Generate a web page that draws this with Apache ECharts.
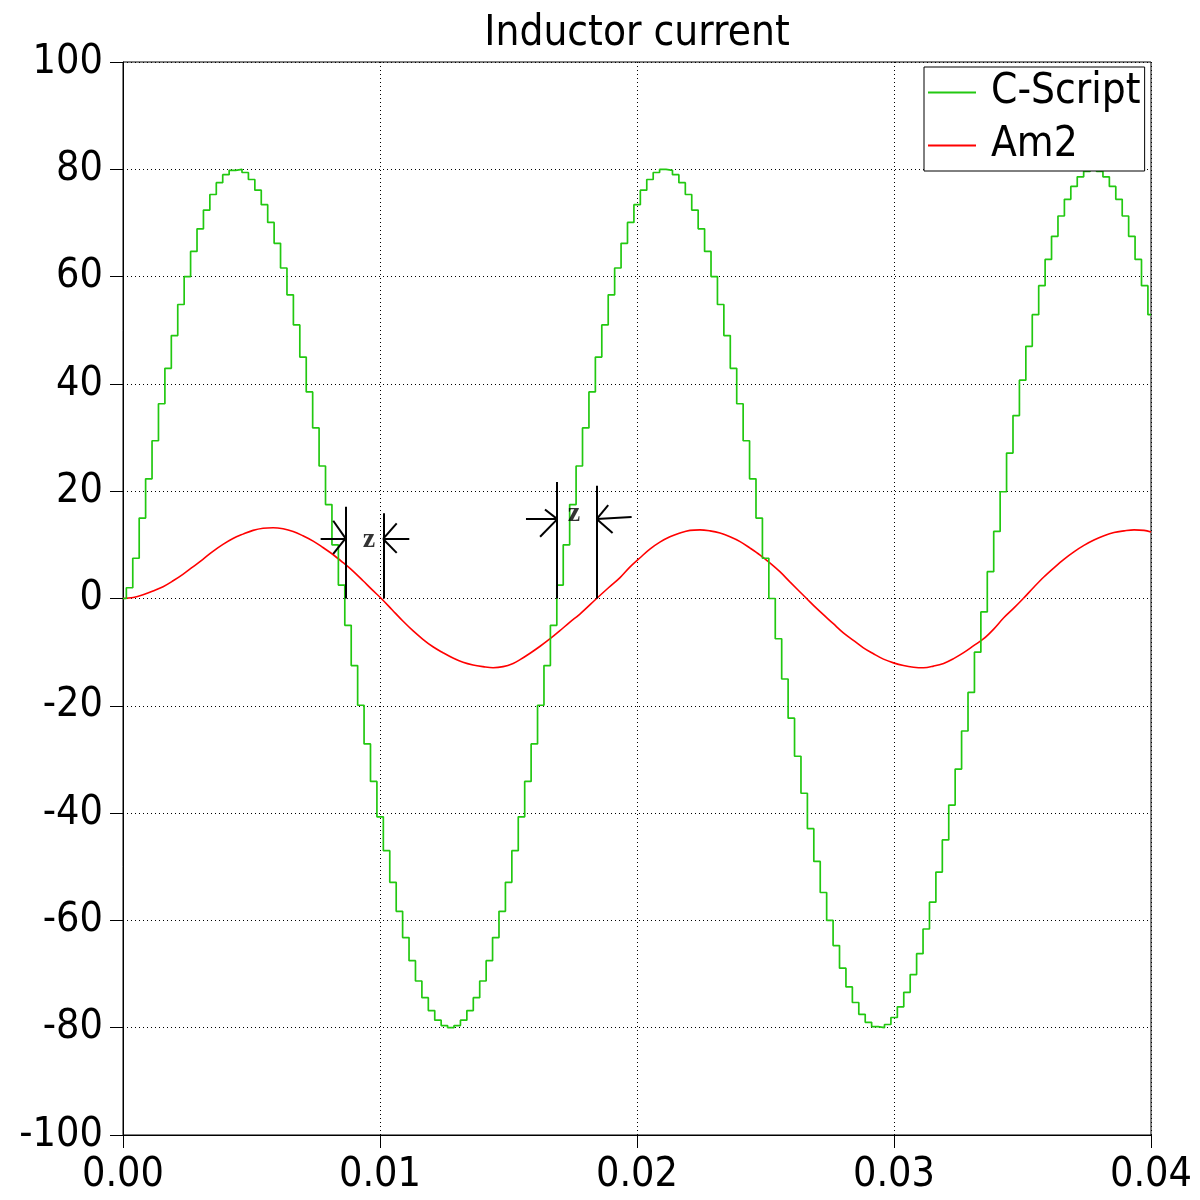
<!DOCTYPE html>
<html>
<head>
<meta charset="utf-8">
<title>Inductor current</title>
<script src="https://cdn.jsdelivr.net/npm/echarts@6/dist/echarts.min.js"></script>
<style>
  html, body { margin: 0; padding: 0; background: #fff; }
  #chart { width: 1200px; height: 1200px; }
</style>
</head>
<body>
<div id="chart"></div>
<script>
// C-Script output: one held value per sample step
const stepStart = 0.00013;
const stepPeriod = 0.00025;
const cScriptSteps = [
  2.0, 7.5, 15.0, 22.3, 29.4, 36.3, 42.9, 49.0, 54.8, 60.0, 64.7, 68.9, 72.4, 75.3, 77.5, 79.0, 79.8,
  80.0, 79.4, 78.1, 76.1, 73.4, 70.1, 66.2, 61.6, 56.6, 51.0, 45.0, 38.5, 31.8, 24.7, 17.5, 10.0, 2.5,
  -5.0, -12.5, -19.9, -27.1, -34.1, -40.7, -47.0, -52.9, -58.3, -63.2, -67.5, -71.3, -74.4, -76.8, -78.6, -79.6, -80.0,
  -79.6, -78.6, -76.8, -74.4, -71.3, -67.5, -63.2, -58.3, -52.9, -47.0, -40.7, -34.1, -27.1, -19.9, -12.5, -5.0,
  2.5, 10.0, 17.5, 24.7, 31.8, 38.5, 45.0, 51.0, 56.6, 61.6, 66.2, 70.1, 73.4, 76.1, 78.1, 79.4, 80.0,
  79.8, 79.0, 77.5, 75.3, 72.4, 68.9, 64.7, 60.0, 54.8, 49.0, 42.9, 36.3, 29.4, 22.3, 15.0, 7.5,
  0.0, -7.5, -15.0, -22.3, -29.4, -36.3, -42.9, -49.0, -54.8, -60.0, -64.7, -68.9, -72.4, -75.3, -77.5, -79.0, -79.8,
  -80.0, -79.4, -78.1, -76.1, -73.4, -70.1, -66.2, -61.6, -56.6, -51.0, -45.0, -38.5, -31.8, -24.7, -17.5, -10.0, -2.5,
  5.0, 12.5, 19.9, 27.1, 34.1, 40.7, 47.0, 52.9, 58.3, 63.2, 67.5, 71.3, 74.4, 76.8, 78.6, 79.6, 80.0,
  79.6, 78.6, 76.8, 74.4, 71.3, 67.5, 63.2, 58.3, 52.9
];

// Am2 current
const am2Times = [
  0, 0.0004, 0.00078, 0.00117, 0.00156, 0.00195, 0.00233, 0.00272, 0.00311, 0.0035,
  0.00389, 0.00428, 0.00467, 0.00506, 0.00545, 0.00584, 0.00623, 0.00662, 0.0070, 0.0074,
  0.00778, 0.00817, 0.00856, 0.00895, 0.00934, 0.0097, 0.01005, 0.01047, 0.01089, 0.01128,
  0.01167, 0.01206, 0.01245, 0.01284, 0.01323, 0.01362, 0.01401, 0.0144, 0.01479, 0.01518,
  0.01545, 0.01584, 0.01623, 0.01662, 0.0170, 0.01739, 0.01778, 0.01843, 0.01889, 0.01934,
  0.01973, 0.02012, 0.0205, 0.02089, 0.02128, 0.02167, 0.02206, 0.02245, 0.02284, 0.02323,
  0.02362, 0.02401, 0.0244, 0.02479, 0.02518, 0.02556, 0.02595, 0.0266, 0.0270, 0.02764,
  0.02803, 0.02842, 0.02881, 0.0292, 0.02959, 0.02998, 0.03037, 0.03076, 0.03115, 0.03154,
  0.03193, 0.03232, 0.03271, 0.0331, 0.03349, 0.03388, 0.03427, 0.03466, 0.03503, 0.03544,
  0.03583, 0.03622, 0.03661, 0.0370, 0.03739, 0.03778, 0.03817, 0.03856, 0.03895, 0.03934,
  0.03973, 0.04
];
const am2Values = [
  0, 0.2, 0.7, 1.4, 2.2, 3.3, 4.5, 5.9, 7.3, 8.8,
  10.1, 11.2, 12.0, 12.7, 13.1, 13.2, 13.0, 12.5, 11.7, 10.7,
  9.5, 8.2, 6.7, 5.1, 3.3, 1.6, 0, -2.1, -4.2, -6.0,
  -7.6, -9.0, -10.1, -11.1, -11.9, -12.4, -12.7, -12.9, -12.7, -12.1,
  -11.4, -10.2, -8.9, -7.5, -6.0, -4.4, -2.9, 0, 2.0, 3.9,
  5.9, 7.6, 9.2, 10.5, 11.5, 12.2, 12.7, 12.8, 12.6, 12.2,
  11.5, 10.6, 9.4, 8.1, 6.6, 5.0, 3.1, 0, -1.9, -4.7,
  -6.4, -7.8, -9.2, -10.3, -11.3, -12.0, -12.5, -12.8, -12.9, -12.6,
  -12.1, -11.2, -10.1, -8.8, -7.5, -5.7, -3.6, -1.8, 0, 2.1,
  4.0, 5.7, 7.3, 8.7, 9.9, 10.9, 11.7, 12.3, 12.6, 12.8,
  12.7, 12.4
];

// "z" delay markers, in axis units: [t1, v1, t2, v2]
const zSegments = [
  // first pair
  [0.00865, 17.1, 0.00865, 0],
  [0.00769, 11.2, 0.00866, 11.2],
  [0.00866, 11.2, 0.00818, 14.5],
  [0.00866, 11.2, 0.00818, 8.3],
  [0.01016, 15.9, 0.01016, 0],
  [0.01114, 11.1, 0.01012, 11.1],
  [0.01012, 11.1, 0.01065, 14.0],
  [0.01012, 11.1, 0.01065, 8.5],
  // second pair
  [0.01688, 21.7, 0.01688, 0],
  [0.01568, 14.8, 0.01690, 14.8],
  [0.01690, 14.8, 0.01642, 16.6],
  [0.01690, 14.8, 0.01623, 11.5],
  [0.01843, 21.0, 0.01843, 0],
  [0.01979, 15.2, 0.01843, 14.8],
  [0.01843, 14.8, 0.01888, 17.4],
  [0.01843, 14.8, 0.01905, 12.2]
];
const zLabels = [
  [0.00957, 11.0],
  [0.01755, 15.8]
];

const xTicks = { min: 0, max: 0.04, interval: 0.01 };
const yTicks = { min: -100, max: 100, interval: 20 };

const tickFont = "'DejaVu Sans Condensed', 'DejaVu Sans', sans-serif";

const chart = echarts.init(document.getElementById('chart'));

const greenData = [[0, 0]];
cScriptSteps.forEach((v, i) => {
  greenData.push([stepStart + i * stepPeriod, v]);
});
greenData.push([xTicks.max, cScriptSteps[cScriptSteps.length - 1]]);

const redData = am2Times.map((t, i) => [t, am2Values[i]]);

const option = {
  backgroundColor: '#fff',
  animation: false,
  title: {
    text: 'Inductor current',
    left: 632,
    top: 8,
    textAlign: 'center',
    textStyle: {
      fontFamily: tickFont,
      fontWeight: 'normal',
      fontSize: 42,
      color: '#000'
    }
  },
  legend: {
    data: ['C-Script', 'Am2'],
    orient: 'vertical',
    left: 924,
    top: 67,
    padding: [3, 4, 3, 4],
    itemGap: 8,
    itemWidth: 48,
    itemHeight: 2,
    icon: 'rect',
    backgroundColor: '#fff',
    borderColor: '#000',
    borderWidth: 1,
    borderRadius: 0,
    textStyle: {
      fontFamily: tickFont,
      fontSize: 42,
      lineHeight: 45,
      color: '#000',
      padding: [0, 0, 0, 10]
    }
  },
  grid: {
    left: 123,
    top: 62,
    right: 49,
    bottom: 65,
    show: true,
    borderColor: '#000',
    borderWidth: 1,
    backgroundColor: '#fff'
  },
  xAxis: {
    type: 'value',
    min: xTicks.min,
    max: xTicks.max,
    interval: xTicks.interval,
    axisLine: { show: true, onZero: false, lineStyle: { color: '#000', width: 1 } },
    axisTick: { show: true, length: 13, lineStyle: { color: '#000' } },
    axisLabel: {
      margin: 20,
      fontFamily: tickFont,
      fontSize: 41,
      color: '#000',
      formatter: v => v.toFixed(2)
    },
    splitLine: { show: true, lineStyle: { color: '#000', type: [1, 3], width: 1 } }
  },
  yAxis: {
    type: 'value',
    min: yTicks.min,
    max: yTicks.max,
    interval: yTicks.interval,
    axisLine: { show: true, lineStyle: { color: '#000', width: 1 } },
    axisTick: { show: true, length: 13, lineStyle: { color: '#000' } },
    axisLabel: {
      margin: 20,
      fontFamily: tickFont,
      fontSize: 41,
      color: '#000'
    },
    splitLine: { show: true, lineStyle: { color: '#000', type: [1, 3], width: 1 } }
  },
  series: [
    {
      name: 'C-Script',
      type: 'line',
      step: 'end',
      data: greenData,
      showSymbol: false,
      color: '#22c811',
      lineStyle: { color: '#22c811', width: 1.7 },
      z: 3
    },
    {
      name: 'Am2',
      type: 'line',
      data: redData,
      smooth: 0.35,
      showSymbol: false,
      color: '#ff0000',
      lineStyle: { color: '#ff0000', width: 1.6 },
      z: 2
    },
    {
      type: 'lines',
      coordinateSystem: 'cartesian2d',
      data: zSegments.map(s => ({ coords: [[s[0], s[1]], [s[2], s[3]]] })),
      lineStyle: { color: '#000', width: 2, opacity: 1 },
      z: 4
    },
    {
      type: 'scatter',
      data: zLabels,
      symbolSize: 1,
      itemStyle: { color: 'rgba(0,0,0,0)' },
      label: {
        show: true,
        position: 'inside',
        formatter: 'z',
        fontFamily: "'Liberation Serif', 'DejaVu Serif', serif",
        fontWeight: 'bold',
        fontSize: 28,
        color: '#000'
      },
      z: 5
    }
  ]
};

chart.setOption(option);
</script>
</body>
</html>
